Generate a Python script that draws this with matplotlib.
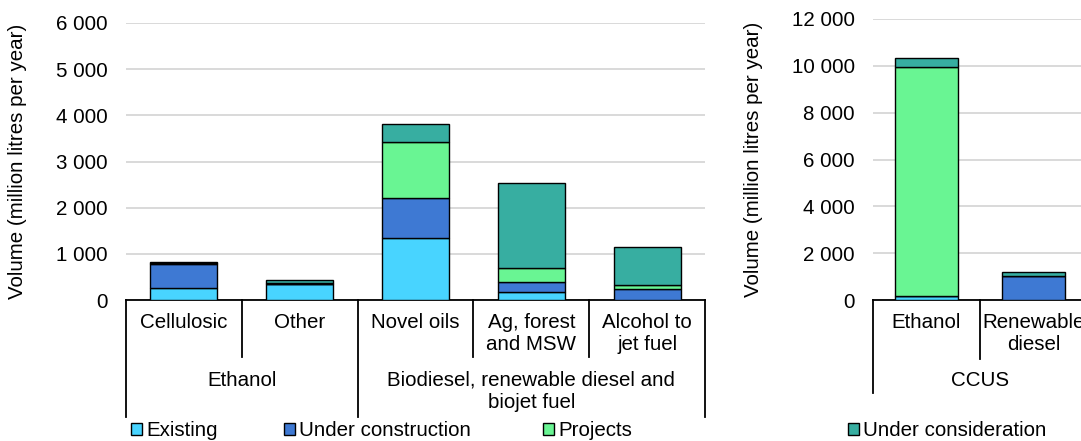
import matplotlib.pyplot as plt
from matplotlib.patches import Patch
from matplotlib.ticker import FuncFormatter

plt.rcParams['font.family'] = ['Liberation Sans', 'DejaVu Sans']
FS = 14.8

# Datos (millones de litros por año)
series = ['Existing', 'Under construction', 'Projects', 'Under consideration']
colors = ['#48D4FF', '#3E79D3', '#69F593', '#37AEA1']

left_cats = ['Cellulosic', 'Other', 'Novel oils', 'Ag, forest\nand MSW', 'Alcohol to\njet fuel']
left_groups = ['Ethanol', 'Biodiesel, renewable diesel and\nbiojet fuel']
left_existing = [250, 340, 1340, 170, 0]
left_construction = [540, 0, 870, 215, 230]
left_projects = [10, 30, 1210, 310, 100]
left_consideration = [20, 60, 390, 1840, 815]

right_cats = ['Ethanol', 'Renewable\ndiesel']
right_group = 'CCUS'
right_existing = [180, 0]
right_construction = [0, 1030]
right_projects = [9750, 0]
right_consideration = [425, 170]

W, H = 1081, 441
fig = plt.figure(figsize=(W / 100, H / 100), dpi=100)

# posiciones en pixeles de la referencia
axL = fig.add_axes([126 / W, (H - 300) / H, 579 / W, 277 / H])
axR = fig.add_axes([873 / W, (H - 300) / H, 214 / W, 281 / H])

fmt = FuncFormatter(lambda v, p: f"{int(v):,}".replace(',', ' '))


def draw(ax, cats, data, ymax, step, h_px):
    x = list(range(len(cats)))
    bottom = [0] * len(cats)
    for vals, c, name in zip(data, colors, series):
        ax.bar(x, vals, 0.58, bottom=bottom, color=c, edgecolor='black', linewidth=1.0, label=name, zorder=3)
        bottom = [b + v for b, v in zip(bottom, vals)]
    ax.set_xlim(-0.5, len(cats) - 0.5)
    ax.set_ylim(0, ymax)
    ax.set_yticks(range(0, ymax + 1, step))
    ax.yaxis.set_major_formatter(fmt)
    ax.set_xticks([])
    ax.tick_params(axis='y', length=0, pad=13, labelsize=FS)
    for s in ['left', 'right', 'top']:
        ax.spines[s].set_visible(False)
    ax.spines['bottom'].set_linewidth(1.3)
    ax.grid(axis='y', color='#D9D9D9', linewidth=1.4, zorder=0)
    ax.set_ylabel('Volume (million litres per year)', fontsize=FS)
    tr = ax.get_xaxis_transform()
    for i, c in enumerate(cats):
        ax.text(i, -13 / h_px, c, transform=tr, ha='center', va='top', fontsize=FS, linespacing=1.2)
    return tr


# --- panel izquierdo ---
trL = draw(axL, left_cats, [left_existing, left_construction, left_projects, left_consideration], 6000, 1000, 277)
for xb in [0.5, 2.5, 3.5]:
    axL.plot([xb, xb], [0, -57 / 277], transform=trL, color='black', lw=1.3, clip_on=False)
for xb in [-0.5, 1.5, 4.5]:
    axL.plot([xb, xb], [0, -117 / 277], transform=trL, color='black', lw=1.3, clip_on=False)
axL.text(0.5, -71 / 277, left_groups[0], transform=trL, ha='center', va='top', fontsize=FS)
axL.text(3.0, -71 / 277, left_groups[1], transform=trL, ha='center', va='top', fontsize=FS, linespacing=1.2)
axL.yaxis.set_label_coords(-99 / 579, 0.5)

# --- panel derecho ---
trR = draw(axR, right_cats, [right_existing, right_construction, right_projects, right_consideration], 12000, 2000, 281)
axR.plot([0.5, 0.5], [0, -59 / 281], transform=trR, color='black', lw=1.3, clip_on=False)
for xb in [-0.5, 1.5]:
    axR.plot([xb, xb], [0, -93 / 281], transform=trR, color='black', lw=1.3, clip_on=False)
axR.text(0.5, -71 / 281, right_group, transform=trR, ha='center', va='top', fontsize=FS)
axR.yaxis.set_label_coords(-110 / 214, 0.5)

# leyenda
for name, c, xp in zip(series, colors, [131, 284, 543, 848]):
    fig.legend(handles=[Patch(facecolor=c, edgecolor='black', linewidth=1.0)], labels=[name],
               loc='center left', bbox_to_anchor=(xp / W, 1 - 431 / H), frameon=False,
               fontsize=FS, handlelength=0.55, handleheight=0.55, handletextpad=0.2, borderpad=0, borderaxespad=0)

fig.savefig('out.png', dpi=100)
